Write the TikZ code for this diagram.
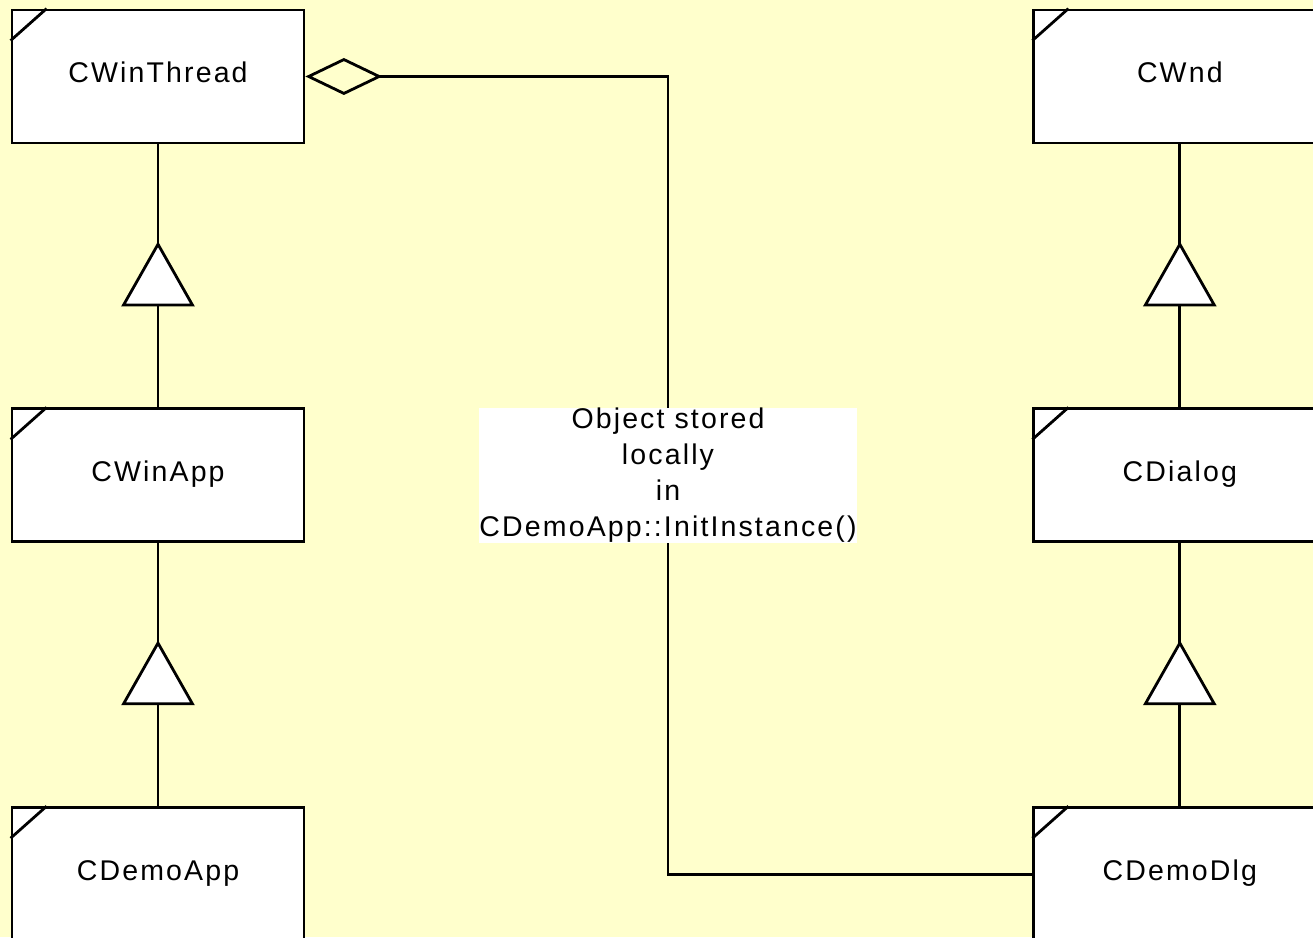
\documentclass[tikz,border=0pt]{standalone}
\usepackage{fontspec}
\setmainfont{Liberation Sans}[LetterSpace=7.5]
\usetikzlibrary{positioning,arrows.meta}
\definecolor{notepad}{HTML}{FFFFCC}

\tikzset{
  cls/.style={draw, fill=white, line width=2.8pt, minimum width=292pt,
    minimum height=133pt, text height=21pt, text depth=8pt,
    font=\fontsize{28.5}{36}\selectfont},
  gen/.style={-{Triangle[length=65pt,width=73pt,fill=white]}},
  agg/.style={{Diamond[open,length=77pt,width=37pt]}-},
}

\begin{document}
\begin{tikzpicture}[line width=2.8pt]
    \fill[notepad] (0,0) rectangle (1313pt,937pt);
    \useasboundingbox (0,0) rectangle (1313pt,937pt);
    \clip (0,0) rectangle (1313pt,937pt);

    % left column
    \node[cls] (thread) at (158pt,860.5pt) {CWinThread};
    \node[cls, below=263pt of thread] (app) {CWinApp};
    \node[cls, below=263pt of app] (demoapp) {CDemoApp};
    % right column
    \node[cls, right=727pt of thread] (wnd) {CWnd};
    \node[cls, below=263pt of wnd] (dialog) {CDialog};
    \node[cls, below=263pt of dialog] (demodlg) {CDemoDlg};

    \foreach \n in {thread,app,demoapp,wnd,dialog,demodlg}
      \draw ([yshift=-32pt]\n.north west) -- ([xshift=36pt]\n.north west);

    % inheritance
    \draw (app) -- (thread);
    \draw[gen] (app.north) -- ++(0,166pt);
    \draw (demoapp) -- (app);
    \draw[gen] (demoapp.north) -- ++(0,166pt);
    \draw (dialog) -- (wnd);
    \draw[gen] (dialog.north) -- ++(0,166pt);
    \draw (demodlg) -- (dialog);
    \draw[gen] (demodlg.north) -- ++(0,166pt);

    % aggregation
    \coordinate (mid) at (668pt,0);
    \draw[agg] (thread.east) -- (thread.east -| mid) |- (demodlg.west);
    \node[fill=white, align=center, inner sep=0pt,
      font=\fontsize{28.5}{36}\selectfont] (note) at (mid |- app)
      {Object stored\\locally\\in\\CDemoApp::InitInstance()};
\end{tikzpicture}
\end{document}
